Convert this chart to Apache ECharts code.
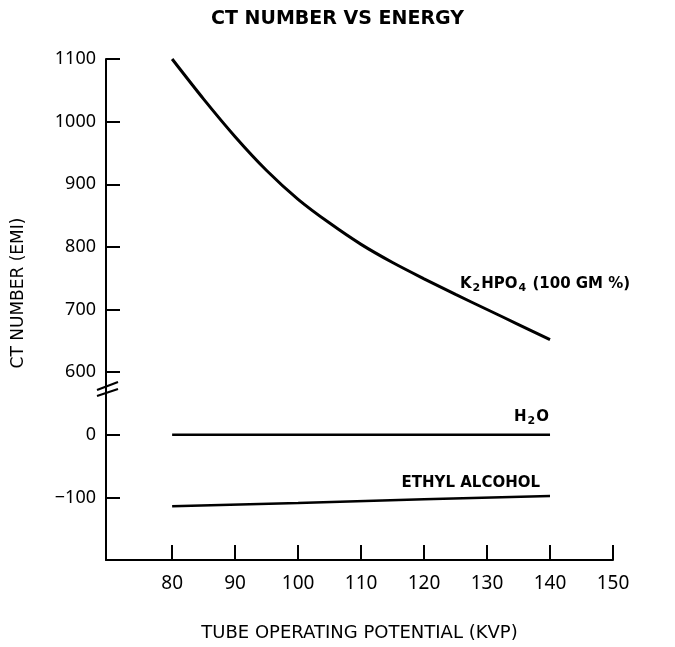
<!DOCTYPE html>
<html><head><meta charset="utf-8">
<script src="https://cdn.jsdelivr.net/npm/echarts@6/dist/echarts.min.js"></script>
<style>html,body{margin:0;padding:0;background:#fff}#c{width:675px;height:647px}</style>
</head><body><div id="c"></div>
<script>
// Tube potential (kVp) and CT numbers (EMI scale)
const kvp = [80, 85, 90, 95, 100, 105, 110, 115, 120, 125, 130, 135, 140];
const k2hpo4 = [1100, 1036, 976, 922, 876, 838, 804, 775, 749, 724, 700, 676, 652];
const waterKvp = [80, 140];
const water = [0, 0];
const alcoholKvp = [80, 100, 120, 140];
const alcohol = [-114, -109, -103, -98];
const xTicks = [80, 90, 100, 110, 120, 130, 140, 150];
// broken y axis: lower section (0, -100) shifted up by 500 onto a common scale
const SHIFT = 500;
const yTickValues = [400, 500, 600, 700, 800, 900, 1000, 1100];
const yTickLabels = ['\u2212100', '0', '600', '700', '800', '900', '1000', '1100'];
const BREAK_AT = 573;

const FONT = 'Noto Sans';
const WIDE = 'DejaVu Sans';
const chart = echarts.init(document.getElementById('c'));
const lower = v => v + SHIFT;
const sub = { fontSize: 11, fontWeight: 'bold', fontFamily: WIDE, color: '#000', padding: [8, 1, 0, 1] };

chart.setOption({
  animation: false,
  backgroundColor: '#fff',
  title: {
    text: 'CT NUMBER VS ENERGY', left: 'center', top: 5,
    textStyle: { fontFamily: WIDE, fontSize: 19, fontWeight: 'bold', color: '#000' }
  },
  grid: { left: 106, right: 62, top: 59, bottom: 81 },
  xAxis: {
    type: 'value', min: 69.5, max: 150,
    name: 'TUBE OPERATING POTENTIAL (KVP)', nameLocation: 'middle', nameGap: 64,
    nameTextStyle: { fontFamily: WIDE, fontSize: 18, color: '#000' },
    axisLine: { lineStyle: { color: '#000', width: 2 } },
    axisTick: { inside: true, length: 15, lineStyle: { color: '#000', width: 2 }, customValues: xTicks },
    axisLabel: { customValues: xTicks, margin: 14, fontFamily: FONT, fontSize: 19, color: '#000' },
    splitLine: { show: false }
  },
  yAxis: {
    type: 'value', min: 300, max: 1100,
    axisLine: { show: true, lineStyle: { color: '#000', width: 2 } },
    axisTick: { show: true, inside: true, length: 14, lineStyle: { color: '#000', width: 2 }, customValues: yTickValues },
    axisLabel: {
      customValues: yTickValues, margin: 10, fontFamily: FONT, fontSize: 18, color: '#000',
      formatter: v => { const i = yTickValues.indexOf(v); return i >= 0 ? yTickLabels[i] : ''; }
    },
    splitLine: { show: false }
  },
  series: [
    {
      name: 'K2HPO4', type: 'line', smooth: 0.3, showSymbol: false,
      data: kvp.map((x, i) => [x, k2hpo4[i]]),
      lineStyle: { color: '#000', width: 3 },
      markPoint: {
        symbol: 'circle', symbolSize: 0,
        data: [{ coord: [125.7, 740] }],
        label: {
          show: true, position: [0, 0], align: 'left', verticalAlign: 'middle',
          formatter: 'K{s|2}HPO{s|4} (100 GM %)',
          fontFamily: WIDE, fontSize: 15, fontWeight: 'bold', color: '#000',
          rich: { s: sub }
        }
      }
    },
    {
      name: 'H2O', type: 'line', showSymbol: false,
      data: waterKvp.map((x, i) => [x, lower(water[i])]),
      lineStyle: { color: '#000', width: 2.5 },
      markPoint: {
        symbol: 'circle', symbolSize: 0,
        data: [{ coord: [140, lower(water[1])] }],
        label: {
          show: true, position: [0, 0], align: 'right', verticalAlign: 'bottom', offset: [-1, -8],
          formatter: 'H{s|2}O',
          fontFamily: WIDE, fontSize: 15, fontWeight: 'bold', color: '#000',
          rich: { s: sub }
        }
      }
    },
    {
      name: 'ETHYL ALCOHOL', type: 'line', showSymbol: false,
      data: alcoholKvp.map((x, i) => [x, lower(alcohol[i])]),
      lineStyle: { color: '#000', width: 2.5 },
      markPoint: {
        symbol: 'circle', symbolSize: 0,
        data: [{ coord: [140, lower(alcohol[alcohol.length - 1])] }],
        label: {
          show: true, position: [0, 0], align: 'right', verticalAlign: 'bottom', offset: [-10, -6],
          formatter: 'ETHYL ALCOHOL',
          fontFamily: WIDE, fontSize: 15, fontWeight: 'bold', color: '#000'
        }
      }
    }
  ]
});

// y-axis name and break marks
const p = chart.convertToPixel({ gridIndex: 0 }, [69.5, BREAK_AT]);
const ax = p[0], by = p[1];
chart.setOption({
  graphic: [
    {
      type: 'text', x: 19, y: 293, rotation: Math.PI / 2,
      style: { text: 'CT NUMBER (EMI)', fontFamily: WIDE, fontSize: 17, fill: '#000', align: 'center', verticalAlign: 'middle' }
    },
    { type: 'rect', shape: { x: ax - 3, y: by - 2, width: 6, height: 4 }, style: { fill: '#fff' } },
    { type: 'line', shape: { x1: ax - 9, y1: by + 1, x2: ax + 12, y2: by - 7 }, style: { stroke: '#000', lineWidth: 2 } },
    { type: 'line', shape: { x1: ax - 9, y1: by + 7, x2: ax + 12, y2: by }, style: { stroke: '#000', lineWidth: 2 } }
  ]
});
</script>
</body></html>
